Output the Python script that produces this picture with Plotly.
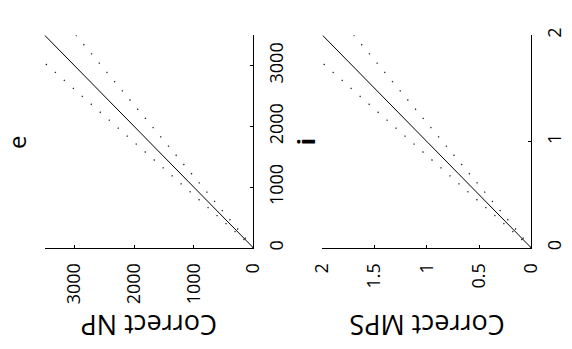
import plotly.graph_objects as go

W, H = 572, 349

# Panel e (NP) values, image orientation: horizontal axis = Correct NP (reversed), vertical axis = estimate
np_est = [0, 3500]
np_identity = [0, 3500]
np_upper = [0, 4025]   # +15 %
np_lower = [0, 2975]   # -15 %
np_ticks = [0, 1000, 2000, 3000]
np_ticktext = ["0", "1000", "2000", "3000"]

# Panel i (MPS) values
mps_est = [0, 2]
mps_identity = [0, 2]
mps_upper = [0, 2.3]
mps_lower = [0, 1.7]
mps_xticks = [0, 0.5, 1, 1.5, 2]
mps_xticktext = ["0", "0.5", "1", "1.5", "2"]
mps_yticks = [0, 1, 2]
mps_yticktext = ["0", "1", "2"]

FONT = "Open Sans"
fig = go.Figure()

def add_panel(est, ident, up, lo, xa, ya):
    fig.add_trace(go.Scatter(x=ident, y=est, mode="lines", xaxis=xa, yaxis=ya,
                             line=dict(color="black", width=1), showlegend=False))
    fig.add_trace(go.Scatter(x=up, y=est, mode="lines", xaxis=xa, yaxis=ya,
                             line=dict(color="#222", width=1.3, dash="1.3px,10.7px"), showlegend=False))
    fig.add_trace(go.Scatter(x=lo, y=est, mode="lines", xaxis=xa, yaxis=ya,
                             line=dict(color="#222", width=1.3, dash="1.3px,10.7px"), showlegend=False))

add_panel(np_est, np_identity, np_upper, np_lower, "x", "y")
add_panel(mps_est, mps_identity, mps_upper, mps_lower, "x2", "y2")

ydom = [102 / H, 321 / H]
common = dict(showgrid=False, zeroline=False, showline=True, linecolor="black", linewidth=1,
              ticks="inside", ticklen=3, tickcolor="black", tickangle=-90,
              ticklabelstandoff=7,
              tickfont=dict(family=FONT, size=18, color="black"))

fig.update_layout(
    width=W, height=H, margin=dict(l=0, r=0, t=0, b=0),
    paper_bgcolor="white", plot_bgcolor="white",
    xaxis=dict(domain=[33 / W, 251 / W], range=[3500, 0], anchor="y",
               tickvals=np_ticks, ticktext=np_ticktext, **common),
    yaxis=dict(domain=ydom, range=[0, 3500], anchor="x", side="right",
               tickvals=np_ticks, ticktext=np_ticktext, **common),
    xaxis2=dict(domain=[323 / W, 541 / W], range=[2, 0], anchor="y2",
                tickvals=mps_xticks, ticktext=mps_xticktext, **common),
    yaxis2=dict(domain=ydom, range=[0, 2], anchor="x2", side="right",
                tickvals=mps_yticks, ticktext=mps_yticktext, **common),
)

def px(x, y):
    return x / W, 1 - y / H

annots = [
    ("e", 3, 138, 24, -90),
    ("<b>i</b>", 305, 138, 24, -90),
    ("Correct NP", 142, 327, 27, 180),
    ("Correct MPS", 432, 327, 27, 180),
]
for text, x, y, size, ang in annots:
    ax, ay = px(x, y)
    fig.add_annotation(text=text, x=ax, y=ay, xref="paper", yref="paper",
                       showarrow=False, textangle=ang, xanchor="center", yanchor="middle",
                       font=dict(family=FONT, size=size, color="black"))

fig.write_html("out.html", config={"displayModeBar": False},
               post_script="document.body.style.margin='0';document.body.style.padding='0';"
                           "document.body.style.overflow='hidden';")
